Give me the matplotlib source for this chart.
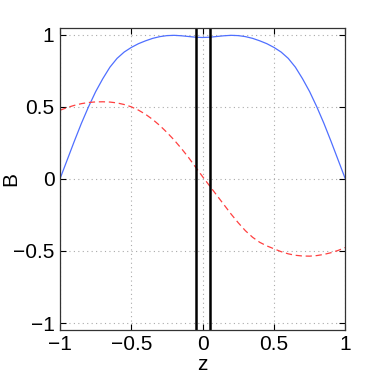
import matplotlib
matplotlib.use('Agg')
import matplotlib.pyplot as plt

# z positions and the two field components
z = [-1.0, -0.95, -0.9, -0.85, -0.8, -0.75, -0.7, -0.65, -0.6, -0.55, -0.5,
     -0.45, -0.4, -0.35, -0.3, -0.25, -0.2, -0.15, -0.1, -0.05, 0.0,
     0.05, 0.1, 0.15, 0.2, 0.25, 0.3, 0.35, 0.4, 0.45, 0.5,
     0.55, 0.6, 0.65, 0.7, 0.75, 0.8, 0.85, 0.9, 0.95, 1.0]

b_blue = [0.0, 0.13, 0.26, 0.385, 0.5, 0.605, 0.695, 0.775, 0.836, 0.88, 0.912,
          0.938, 0.958, 0.975, 0.987, 0.994, 0.996, 0.993, 0.988, 0.983, 0.981,
          0.983, 0.988, 0.993, 0.996, 0.994, 0.987, 0.975, 0.958, 0.938, 0.912,
          0.88, 0.836, 0.775, 0.695, 0.605, 0.5, 0.385, 0.26, 0.13, 0.0]

b_red = [0.476, 0.495, 0.51, 0.522, 0.53, 0.534, 0.535, 0.533, 0.527, 0.516, 0.5,
         0.477, 0.448, 0.412, 0.37, 0.322, 0.27, 0.212, 0.15, 0.082, 0.015,
         -0.05, -0.115, -0.18, -0.245, -0.305, -0.36, -0.405, -0.44, -0.465, -0.485,
         -0.505, -0.52, -0.53, -0.535, -0.536, -0.532, -0.524, -0.512, -0.496, -0.476]

walls = [-0.05, 0.05]   # vertical black lines
xticks = [-1, -0.5, 0, 0.5, 1]
yticks = [-1, -0.5, 0, 0.5, 1]
tick_text = ['\u22121', '\u22120.5', '0', '0.5', '1']

plt.rcParams['font.family'] = ['Liberation Sans', 'DejaVu Sans']

fig = plt.figure(figsize=(3.82, 3.82), dpi=100)
ax = fig.add_axes([0.157, 0.1374, 0.747, 0.7886])

ax.plot(z, b_blue, color='#4f6fff', linewidth=0.9)
ax.plot(z, b_red, color='#ff4040', linewidth=0.9, linestyle=(0, (5, 3)))
for w in walls:
    ax.axvline(w, color='black', linewidth=1.8)

ax.set_xlim(-1, 1)
ax.set_ylim(-1.045, 1.045)
ax.set_xticks(xticks)
ax.set_yticks(yticks)
ax.set_xticklabels(tick_text)
ax.set_yticklabels(tick_text)
ax.tick_params(direction='in', length=4, width=0.8, top=True, right=True,
               labelsize=15, pad=4, colors='black')
ax.grid(True, linestyle=(0, (1, 3)), color='#aaaaaa', linewidth=0.8)
for s in ax.spines.values():
    s.set_linewidth(0.9)
    s.set_color('#333333')

ax.set_xlabel('z', fontsize=15, labelpad=1)
# y label placed by hand so it sits in the narrow left margin like the original
fig.text(11 / 382, 1 - 179 / 382, 'B', fontsize=15, rotation=90,
         ha='center', va='center')

fig.savefig('out.png', dpi=100)
